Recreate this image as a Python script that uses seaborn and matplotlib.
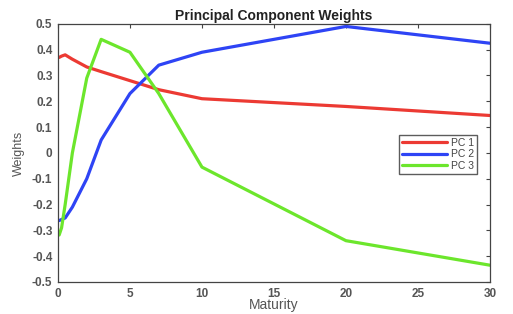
import matplotlib.pyplot as plt
import seaborn as sns
import pandas as pd

maturity = [0.083, 0.25, 0.5, 1, 2, 3, 5, 7, 10, 20, 30]
pc1 = [0.37, 0.375, 0.38, 0.363, 0.333, 0.315, 0.28, 0.245, 0.21, 0.18, 0.145]
pc2 = [-0.262, -0.258, -0.252, -0.21, -0.10, 0.05, 0.23, 0.34, 0.39, 0.49,
       0.425]
pc3 = [-0.318, -0.29, -0.2, 0.0, 0.29, 0.44, 0.39, 0.23, -0.055, -0.34,
       -0.435]
series_names = ['PC 1', 'PC 2', 'PC 3']
colors = ['#ec3a33', '#2e44f5', '#6ce62c']


def main():
    sns.set_style('white')
    plt.rcParams['font.family'] = ['Liberation Sans', 'DejaVu Sans']

    df = pd.DataFrame({'Maturity': maturity * 3,
                       'Weights': pc1 + pc2 + pc3,
                       'Series': [s for s in series_names
                                  for _ in maturity]})

    fig = plt.figure(figsize=(5.13, 3.14), dpi=100)
    ax = fig.add_axes([0.113, 0.102, 0.842, 0.822])
    sns.lineplot(data=df, x='Maturity', y='Weights', hue='Series',
                 palette=dict(zip(series_names, colors)), lw=2.3, ax=ax,
                 sort=False)

    ax.set(xlim=(0, 30), ylim=(-0.5, 0.5))
    ax.set_xticks([0, 5, 10, 15, 20, 25, 30])
    ax.set_yticks([-0.5, -0.4, -0.3, -0.2, -0.1, 0, 0.1, 0.2, 0.3, 0.4, 0.5])
    ax.set_yticklabels(['-0.5', '-0.4', '-0.3', '-0.2', '-0.1', '0',
                        '0.1', '0.2', '0.3', '0.4', '0.5'])
    ax.tick_params(direction='in', length=3, top=True, right=True,
                   labelsize=8.5, colors='#444444', labelcolor='#555555',
                   width=0.8, pad=4)
    for lbl in ax.get_xticklabels() + ax.get_yticklabels():
        lbl.set_fontweight('bold')
    for side in ax.spines.values():
        side.set_color('#444444')
        side.set_linewidth(0.9)

    ax.set_xlabel('Maturity', fontsize=10, color='#555555', labelpad=-1)
    ax.set_ylabel('Weights', fontsize=9, color='#555555', labelpad=5)
    ax.set_title('Principal Component Weights', fontsize=10,
                 fontweight='bold', color='#222222', pad=3)

    leg = ax.legend(loc='upper left', bbox_to_anchor=(0.777, 0.59),
                    fontsize=7.5, frameon=True, fancybox=False,
                    edgecolor='#333333', handlelength=4.3,
                    handletextpad=0.4, borderpad=0.3,
                    labelspacing=0.12, title=None)
    for txt in leg.get_texts():
        txt.set_color('#444444')

    fig.savefig('out.png', dpi=100)


if __name__ == '__main__':
    main()
